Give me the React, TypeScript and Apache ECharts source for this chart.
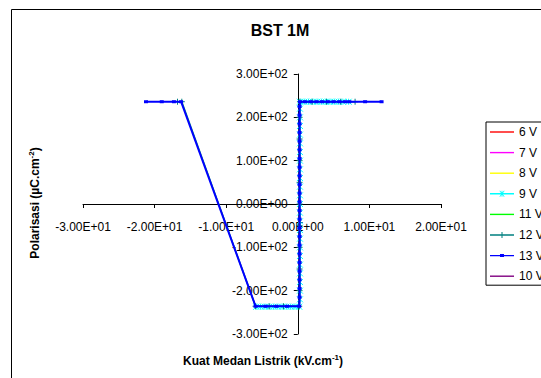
import React, { useEffect, useRef } from "react";
import * as echarts from "echarts";

// Tick values
const xTicks = [-30, -20, -10, 0, 10, 20];
const yTicks = [-300, -200, -100, 0, 100, 200, 300];

// Series names (legend order)
const seriesNames = ["6 V", "7 V", "8 V", "9 V", "11 V", "12 V", "13 V", "10 V"];

// 6 V
const x6 = [0.25, 0.25];
const y6 = [-150, 150];
// 7 V
const x7 = [0.25, 0.25];
const y7 = [-170, 170];
// 8 V
const x8 = [0.25, 0.25];
const y8 = [-190, 190];
// 9 V
const x9 = [-5.8, -5.2, -4.6, -4.0, -3.4, -2.8, -2.2, -1.6, -1.0, -0.4, 0.2,
  0.3, 0.3, 0.3, 0.3, 0.3, 0.3, 0.3, 0.3, 0.3, 0.3, 0.3, 0.3, 0.3, 0.3, 0.3, 0.3, 0.3, 0.3, 0.3, 0.3, 0.3, 0.3, 0.3, 0.3,
  0.9, 1.5, 2.1, 2.7, 3.3, 3.9, 4.5, 5.1, 5.7, 6.3, 7.1];
const y9 = [-237, -237, -237, -237, -237, -237, -237, -237, -237, -237, -237,
  -220, -200, -180, -160, -140, -120, -100, -80, -60, -40, -20, 0, 20, 40, 60, 80, 100, 120, 140, 160, 180, 200, 220, 236,
  236, 236, 236, 236, 236, 236, 236, 236, 236, 236, 236];
// 11 V
const x11 = [0.25, 0.25];
const y11 = [-210, 210];
// 12 V
const x12 = [-16.8, -16.2, -5.9, -4.0, -2.0, 0.2, 0.25, 0.25, 0.25, 0.25, 0.25, 0.25, 0.25, 0.25, 0.25, 0.3, 2.0, 4.0, 6.0, 8.0];
const y12 = [236, 236, -236, -236, -236, -236, -200, -150, -100, -50, 0, 50, 100, 150, 200, 236, 236, 236, 236, 236];
// 13 V
const x13 = [-21.2, -19.0, -17.3, -16.3, -5.9, -4.5, -3.0, -1.5, 0.2,
  0.25, 0.25, 0.25, 0.25, 0.25, 0.25, 0.25, 0.25, 0.25, 0.25, 0.25, 0.25, 0.25, 0.25, 0.25, 0.25, 0.25, 0.25, 0.25, 0.25, 0.25, 0.25, 0.25,
  0.3, 1.0, 1.8, 2.6, 3.4, 4.2, 5.0, 5.8, 6.6, 7.2, 9.4, 11.7];
const y13 = [236, 236, 236, 236, -236, -236, -236, -236, -236,
  -215, -195, -175, -155, -135, -115, -95, -75, -55, -35, -15, 5, 25, 45, 65, 85, 105, 125, 145, 165, 185, 205, 225,
  236, 236, 236, 236, 236, 236, 236, 236, 236, 236, 236, 236];
// 10 V
const x10 = [0.25, 0.25];
const y10 = [-230, 230];

const FONT = "'Liberation Sans', Arial, sans-serif";

function sci(v: number): string {
  if (v === 0) return "0.00E+00";
  const e = Math.floor(Math.log10(Math.abs(v)) + 1e-9);
  const m = v / Math.pow(10, e);
  return m.toFixed(2) + "E" + (e < 0 ? "-" : "+") + String(Math.abs(e)).padStart(2, "0");
}

function pairs(xs: number[], ys: number[]): number[][] {
  return xs.map((x, i) => [x, ys[i]]);
}

const CROSS = "path://M0,0L10,10M10,0L0,10M5,0L5,10";
const PLUS = "path://M5,0L5,10M0,5L10,5";

// legend icons (24 x 14 box)
const BOUNDS = "M0,0L0,0M24,14L24,14";
const LINE_ICON = "M0,6.3L24,6.3L24,7.7L0,7.7Z";
const ICON_PLAIN = "path://" + BOUNDS + LINE_ICON;
const ICON_X = "path://" + BOUNDS + LINE_ICON +
  "M9.3,4L10.2,4L14.7,10L13.8,10ZM13.8,4L14.7,4L10.2,10L9.3,10ZM11.6,4L12.4,4L12.4,10L11.6,10Z";
const ICON_PLUS = "path://" + BOUNDS + LINE_ICON + "M11.5,4L12.5,4L12.5,10L11.5,10Z";
const ICON_SQ = "path://" + BOUNDS + LINE_ICON + "M10,5.5L14,5.5L14,8.5L10,8.5Z";
const legendIcons: Record<string, string> = {
  "9 V": ICON_X,
  "12 V": ICON_PLUS,
  "13 V": ICON_SQ,
};

export default function App() {
  const ref = useRef<HTMLDivElement>(null);
  useEffect(() => {
    if (!ref.current) return;
    const chart = echarts.init(ref.current, null, { renderer: "svg" });
    const hidden = (name: string, color: string, xs: number[], ys: number[]) => ({
      name,
      type: "line",
      z: 1,
      data: pairs(xs, ys),
      symbol: "none",
      lineStyle: { color, width: 1.5 },
      itemStyle: { color },
    });
    const gridLeft = 83;
    const gridRight = 100;
    const gridTop = 74;
    const gridBottom = 44;
    const gw = 541 - gridLeft - gridRight;
    const gh = 378 - gridTop - gridBottom;
    const xMin = xTicks[0];
    const xMax = xTicks[xTicks.length - 1];
    const yMin = yTicks[0];
    const yMax = yTicks[yTicks.length - 1];
    const yAxisOffset = -gw * (0 - xMin) / (xMax - xMin);
    const xAxisOffset = -gh * (0 - yMin) / (yMax - yMin);
    chart.setOption({
      animation: false,
      backgroundColor: "#ffffff",
      textStyle: { fontFamily: FONT },
      title: {
        text: "BST 1M",
        left: 280,
        textAlign: "center",
        top: 22,
        padding: 0,
        textStyle: { fontSize: 16, fontWeight: "bold", color: "#000", fontFamily: FONT },
      },
      legend: {
        orient: "vertical",
        left: 486,
        top: 122,
        itemWidth: 24,
        itemHeight: 14,
        itemGap: 6.6,
        padding: [3, 5, 2, 4],
        borderColor: "#000",
        borderWidth: 1,
        backgroundColor: "#fff",
        itemStyle: { borderWidth: 0 },
        textStyle: { fontSize: 12, color: "#000", fontFamily: FONT },
        data: seriesNames.map((n) => ({ name: n, icon: legendIcons[n] || ICON_PLAIN })),
      },
      grid: { left: gridLeft, right: gridRight, top: gridTop, bottom: gridBottom },
      xAxis: {
        type: "value",
        position: "bottom",
        offset: xAxisOffset,
        min: xMin,
        max: xMax,
        interval: 10,
        splitLine: { show: false },
        axisLine: { onZero: false, lineStyle: { color: "#000", width: 1 } },
        axisTick: { show: true, length: 4, lineStyle: { color: "#000" } },
        axisLabel: { fontSize: 12, color: "#000", margin: 17, formatter: (v: number) => sci(v), fontFamily: FONT },
      },
      yAxis: {
        type: "value",
        position: "left",
        offset: yAxisOffset,
        min: yMin,
        max: yMax,
        interval: 100,
        splitLine: { show: false },
        axisLine: { onZero: false, lineStyle: { color: "#000", width: 1 } },
        axisTick: { show: true, length: 4, lineStyle: { color: "#000" } },
        axisLabel: { fontSize: 12, color: "#000", margin: 10, formatter: (v: number) => sci(v), fontFamily: FONT },
      },
      graphic: [
        {
          type: "rect",
          shape: { x: 11.5, y: 9.5, width: 700, height: 500 },
          style: { fill: "none", stroke: "#000", lineWidth: 1 },
          silent: true,
          z: -10,
        },
        {
          type: "text",
          x: 263,
          y: 361,
          style: {
            text: "{b|Kuat Medan Listrik (kV.cm}{s|-1}{b|)}",
            align: "center",
            verticalAlign: "middle",
            rich: {
              b: { fontSize: 12, fontWeight: "bold", fill: "#000", fontFamily: FONT },
              s: { fontSize: 8, fontWeight: "bold", fill: "#000", fontFamily: FONT, padding: [0, 0, 7, 0] },
            },
          },
        },
        {
          type: "text",
          x: 35,
          y: 203,
          rotation: Math.PI / 2,
          style: {
            text: "{b|Polarisasi (µC.cm}{s|-2}{b|)}",
            align: "center",
            verticalAlign: "middle",
            rich: {
              b: { fontSize: 12, fontWeight: "bold", fill: "#000", fontFamily: FONT },
              s: { fontSize: 8, fontWeight: "bold", fill: "#000", fontFamily: FONT, padding: [0, 0, 7, 0] },
            },
          },
        },
      ],
      series: [
        hidden("6 V", "#FF0000", x6, y6),
        hidden("7 V", "#FF00FF", x7, y7),
        hidden("8 V", "#FFFF00", x8, y8),
        {
          name: "9 V",
          type: "line",
          z: 2,
          data: pairs(x9, y9),
          symbol: CROSS,
          symbolSize: 6,
          lineStyle: { color: "#00FFFF", width: 1.5 },
          itemStyle: { color: "#00FFFF", borderColor: "#00FFFF", borderWidth: 1 },
        },
        hidden("11 V", "#00FF00", x11, y11),
        {
          name: "12 V",
          type: "line",
          z: 3,
          data: pairs(x12, y12),
          symbol: PLUS,
          symbolSize: 6,
          lineStyle: { color: "#008080", width: 1.5 },
          itemStyle: { color: "#008080", borderColor: "#008080", borderWidth: 1 },
        },
        {
          name: "13 V",
          type: "line",
          z: 4,
          data: pairs(x13, y13),
          symbol: "rect",
          symbolSize: [4, 3],
          lineStyle: { color: "#0000FF", width: 2 },
          itemStyle: { color: "#0000FF" },
        },
        hidden("10 V", "#800080", x10, y10),
      ],
    });
    return () => chart.dispose();
  }, []);
  return (
    <div
      ref={ref}
      style={{ position: "absolute", left: 0, top: 0, width: 541, height: 378, background: "#fff" }}
    />
  );
}
